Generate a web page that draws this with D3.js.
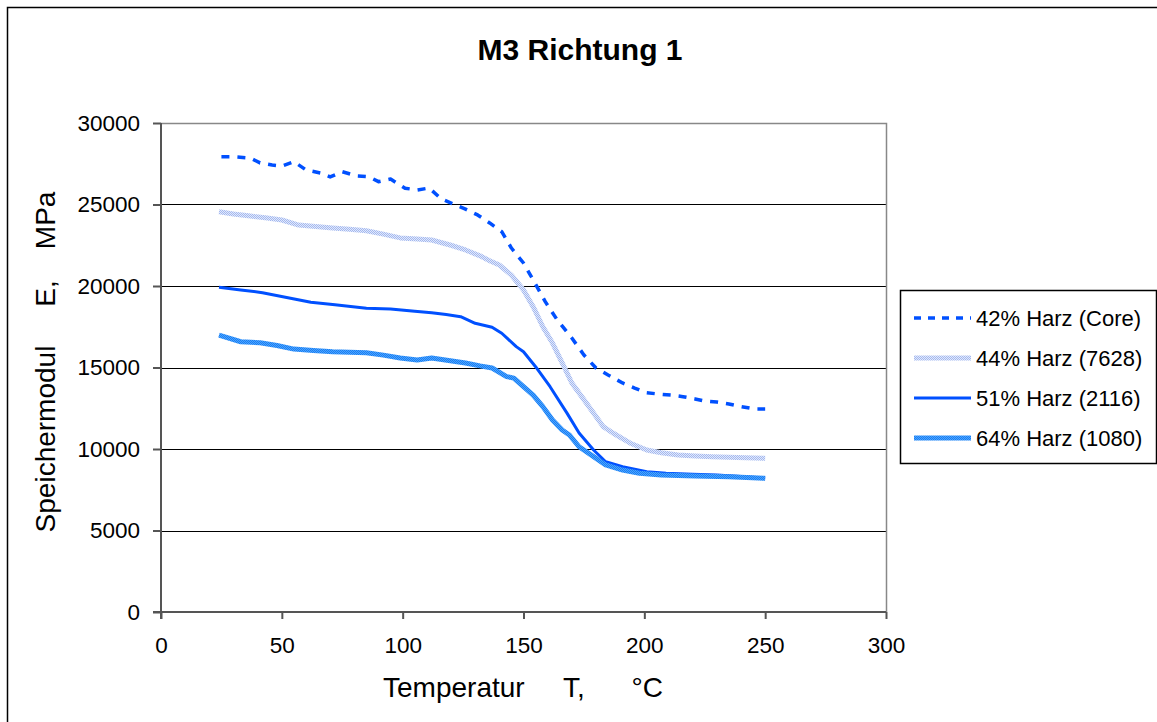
<!DOCTYPE html>
<html>
<head>
<meta charset="utf-8">
<style>
body {
  margin: 0;
  font-family: "Liberation Sans", Arial, Helvetica, sans-serif;
  background: #fff;
}
svg {
  display: block;
}
.grid line {
  stroke: #000;
  stroke-width: 1px;
}
.axis text {
  font-size: 22.5px;
  font-family: "Liberation Sans", Arial, sans-serif;
  fill: #000;
}
.axis path, .axis line {
  stroke: #555;
  stroke-width: 2px;
}
path.series {
  fill: none;
  stroke-linejoin: round;
}
</style>
<title>M3 Richtung 1</title>
<script src="https://cdn.jsdelivr.net/npm/d3@7"></script>
</head>
<body>
<script type="text/javascript">
var width = 1157,
    height = 722;

var margin = {left: 161, top: 123, right: 271, bottom: 110};

// series names as in the legend
var seriesNames = ["42% Harz (Core)", "44% Harz (7628)", "51% Harz (2116)", "64% Harz (1080)"];

// 42% Harz (Core)
var core = [
  [25, 27930], [30, 27930], [37, 27850], [41, 27550], [46, 27420], [50, 27360],
  [55, 27630], [60, 27120], [66, 26930], [70, 26690], [75, 27010], [81, 26750],
  [86, 26700], [90, 26400], [95, 26560], [101, 26000], [106, 25890], [111, 26010],
  [116, 25340], [121, 25030], [126, 24720], [131, 24360], [136, 23870], [141, 23330],
  [145, 22330], [150, 21410], [154, 20370], [159, 19040], [164, 17910], [170, 16810],
  [175, 15770], [180, 14970], [185, 14540], [191, 14050], [196, 13740], [201, 13450],
  [206, 13370], [211, 13310], [216, 13210], [221, 13070], [225, 12940], [230, 12880],
  [235, 12760], [240, 12600], [246, 12450], [250, 12450]
];

// 44% Harz (7628)
var h7628 = [
  [24, 24560], [30, 24420], [37, 24290], [44, 24170], [50, 24050], [57, 23740],
  [64, 23650], [71, 23560], [78, 23480], [85, 23390], [92, 23180], [99, 22950],
  [106, 22880], [112, 22820], [120, 22500], [126, 22210], [132, 21850], [136, 21550],
  [140, 21290], [145, 20670], [150, 19760], [154, 18730], [158, 17500], [162, 16500],
  [166, 15280], [170, 14050], [176, 12820], [183, 11370], [187, 10980], [194, 10370],
  [201, 9940], [207, 9770], [214, 9630], [221, 9570], [228, 9530], [235, 9490],
  [242, 9470], [250, 9430]
];

// 51% Harz (2116)
var h2116 = [
  [24, 19920], [33, 19760], [42, 19590], [52, 19300], [62, 19000], [72, 18850],
  [85, 18630], [95, 18590], [105, 18450], [112, 18360], [118, 18250], [124, 18120],
  [130, 17710], [137, 17470], [141, 17100], [147, 16280], [150, 15970], [155, 15050],
  [161, 13820], [168, 12200], [173, 10980], [179, 9940], [184, 9220], [191, 8910],
  [201, 8610], [209, 8510], [220, 8450], [230, 8400], [240, 8320], [250, 8220]
];

// 64% Harz (1080)
var h1080 = [
  [24, 16990], [33, 16580], [41, 16520], [48, 16350], [55, 16130], [63, 16050],
  [71, 15970], [78, 15940], [85, 15910], [92, 15760], [99, 15580], [106, 15460],
  [112, 15580], [119, 15430], [126, 15280], [132, 15100], [137, 14970], [143, 14440],
  [146, 14350], [150, 13820], [154, 13310], [158, 12600], [162, 11780], [166, 11170],
  [169, 10860], [173, 10140], [179, 9530], [184, 9020], [191, 8710], [198, 8510],
  [207, 8400], [221, 8340], [235, 8300], [250, 8200]
];

var xTicks = [0, 50, 100, 150, 200, 250, 300];
var yTicks = [0, 5000, 10000, 15000, 20000, 25000, 30000];

var seriesData = [core, h7628, h2116, h1080];

var svg = d3.select("body")
  .append("svg")
  .attr("width", width)
  .attr("height", height);

// textures for the patterned lines
var defs = svg.append("defs");
function checker(id, a, b) {
  var p = defs.append("pattern")
    .attr("id", id)
    .attr("patternUnits", "userSpaceOnUse")
    .attr("width", 2)
    .attr("height", 2);
  p.append("rect").attr("width", 2).attr("height", 2).attr("fill", a);
  p.append("rect").attr("width", 1).attr("height", 1).attr("fill", b);
  p.append("rect").attr("x", 1).attr("y", 1).attr("width", 1).attr("height", 1).attr("fill", b);
}
checker("pale", "#e2e9fb", "#a3b8ef");
checker("mid", "#4aa6ff", "#1c7cf2");

var styles = [
  {stroke: "#0050ff", width: 3.5, dash: "8,8"},
  {stroke: "url(#pale)", width: 5, dash: null},
  {stroke: "#0050ff", width: 3, dash: null},
  {stroke: "url(#mid)", width: 5, dash: null}
];

// outer frame
svg.append("rect")
  .attr("x", 7.5)
  .attr("y", 7.5)
  .attr("width", width + 10)
  .attr("height", height + 10)
  .attr("fill", "none")
  .attr("stroke", "#000")
  .attr("stroke-width", 1.5);

var plotW = 886 - margin.left,
    plotH = 612 - margin.top;

var x = d3.scaleLinear().domain([0, 300]).range([0, plotW]);
var y = d3.scaleLinear().domain([0, 30000]).range([plotH, 0]);

var g = svg.append("g")
  .attr("transform", "translate(" + margin.left + "," + margin.top + ")");

// horizontal grid
g.append("g")
  .attr("class", "grid")
  .selectAll("line")
  .data(yTicks.slice(1, -1))
  .enter()
  .append("line")
  .attr("x1", 0)
  .attr("x2", plotW)
  .attr("y1", function(d) { return Math.round(y(d)) + 0.5; })
  .attr("y2", function(d) { return Math.round(y(d)) + 0.5; });

// plot border, top and right
g.append("path")
  .attr("d", "M0,0.5H" + plotW + ".5V" + plotH)
  .attr("fill", "none")
  .attr("stroke", "#888")
  .attr("stroke-width", 1.5);

// axes
g.append("g")
  .attr("class", "axis")
  .attr("transform", "translate(0," + plotH + ")")
  .call(d3.axisBottom(x).tickValues(xTicks).tickFormat(d3.format("d"))
    .tickSize(7).tickSizeOuter(0).tickPadding(18))
  .call(function(a) { a.select(".domain").attr("d", "M-8,0H" + plotW); });

g.append("g")
  .attr("class", "axis")
  .call(d3.axisLeft(y).tickValues(yTicks).tickFormat(d3.format("d"))
    .tickSize(8).tickSizeOuter(0).tickPadding(13))
  .call(function(a) { a.select(".domain").attr("d", "M0,0V" + (plotH + 7)); });

// lines
var line = d3.line()
  .x(function(d) { return x(d[0]); })
  .y(function(d) { return y(d[1]); });

g.selectAll("path.series")
  .data(seriesData)
  .enter()
  .append("path")
  .attr("class", "series")
  .attr("d", line)
  .attr("stroke", function(d, i) { return styles[i].stroke; })
  .attr("stroke-width", function(d, i) { return styles[i].width; })
  .attr("stroke-dasharray", function(d, i) { return styles[i].dash; });

// title
svg.append("text")
  .attr("x", 580)
  .attr("y", 60)
  .attr("text-anchor", "middle")
  .style("font-size", "30px")
  .style("font-weight", "bold")
  .text("M3 Richtung 1");

// axis titles
svg.append("text")
  .attr("x", 523)
  .attr("y", 697)
  .attr("text-anchor", "middle")
  .style("font-size", "28px")
  .style("white-space", "pre")
  .text("Temperatur     T,      °C");

svg.append("text")
  .attr("transform", "translate(55,362) rotate(-90)")
  .attr("text-anchor", "middle")
  .style("font-size", "28px")
  .style("white-space", "pre")
  .text("Speichermodul     E,    MPa");

// legend
var legend = svg.append("g").attr("transform", "translate(900,290)");
legend.append("rect")
  .attr("x", 0.5)
  .attr("y", 0.5)
  .attr("width", 256)
  .attr("height", 173)
  .attr("fill", "#fff")
  .attr("stroke", "#000")
  .attr("stroke-width", 1.5);

var item = legend.selectAll("g.item")
  .data(seriesNames)
  .enter()
  .append("g")
  .attr("class", "item")
  .attr("transform", function(d, i) { return "translate(0," + (28 + i * 40) + ")"; });

item.append("line")
  .attr("x1", 14)
  .attr("x2", 71)
  .attr("stroke", function(d, i) { return styles[i].stroke; })
  .attr("stroke-width", function(d, i) { return styles[i].width; })
  .attr("stroke-dasharray", function(d, i) { return styles[i].dash ? "7,7" : null; });

item.append("text")
  .attr("x", 76)
  .attr("y", 8)
  .style("font-size", "22px")
  .text(function(d) { return d; });
</script>
</body>
</html>
